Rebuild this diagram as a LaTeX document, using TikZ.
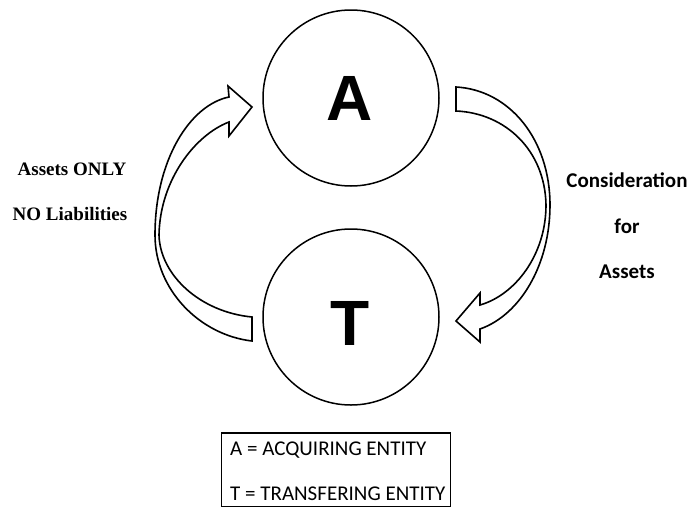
\documentclass[tikz,border=0pt]{standalone}
\usepackage{fontspec}
\setmainfont{Carlito}
\newfontfamily\serifb{Liberation Serif}
\newfontfamily\arialf{Liberation Sans}
\begin{document}
\begin{tikzpicture}[x=1pt,y=-1pt,
  circ/.style={draw,circle,line width=1.5pt,minimum size=176pt,inner sep=0pt},
  bigletter/.style={font=\arialf\bfseries\fontsize{64}{64}\selectfont,anchor=base,inner sep=0pt},
  blockarrow/.style={draw,fill=white,line width=1.6pt,line join=miter},
  leftlbl/.style={font=\serifb\bfseries\fontsize{19}{19}\selectfont,anchor=base,inner sep=0pt},
  rightlbl/.style={font=\bfseries\fontsize{21}{21}\selectfont,anchor=base,inner sep=0pt},
  legendtxt/.style={font=\fontsize{21}{21}\selectfont,anchor=base west,inner sep=0pt},
]
\useasboundingbox (0,0) rectangle (689,507);
% circles
\node[circ] (A) at (351,98) {};
\node[circ] (T) at (351,317) {};
\node[bigletter] (Alet) at (350,120) {A};
\node[bigletter] (Tlet) at (350.5,345) {T};
% left curved arrow (T -> A)
\draw[blockarrow] (252,341) .. controls (200,335) and (155,290) .. (155,235)
  .. controls (155,160) and (190,105) .. (229,97) -- (228,86) -- (252,107)
  -- (229,136) -- (229,122) .. controls (195,135) and (160,180) .. (159,235)
  .. controls (160,275) and (200,312) .. (252,317) -- cycle;
% right curved arrow (A -> T)
\draw[blockarrow] (456,87) .. controls (510,90) and (550,140) .. (550,205)
  .. controls (550,265) and (520,315) .. (480,329) -- (480,342) -- (456,321)
  -- (480,293) -- (480,305) .. controls (515,295) and (546,255) .. (546,205)
  .. controls (545,150) and (505,113) .. (456,111) -- cycle;
% labels
\node[leftlbl] (l1) at (72,175) {Assets ONLY};
\node[leftlbl] (l2) at (70,220) {NO Liabilities};
\node[rightlbl] (r1) at (627,187) {Consideration};
\node[rightlbl] (r2) at (627,233) {for};
\node[rightlbl] (r3) at (627,278) {Assets};
% legend
\node[draw,line width=1pt,minimum width=229pt,minimum height=73pt,inner sep=0pt,anchor=north west] (legend) at (221,433) {};
\draw[line width=2pt] (legend.north west) -- (legend.north east);
\node[legendtxt] (k1) at (230,455) {A = ACQUIRING ENTITY};
\node[legendtxt] (k2) at (230,500) {T = TRANSFERING ENTITY};
\end{tikzpicture}
\end{document}
